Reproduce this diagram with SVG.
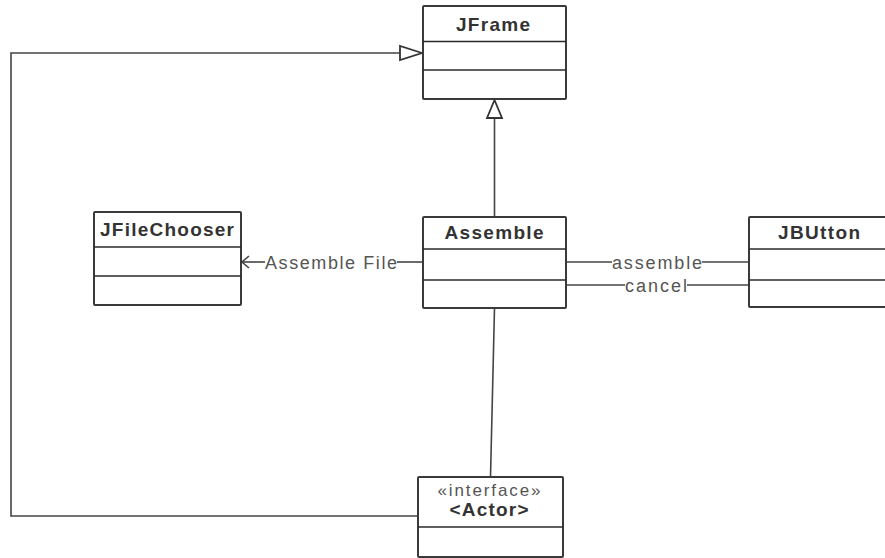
<svg xmlns="http://www.w3.org/2000/svg" width="885" height="558" viewBox="0 0 885 558">
  <style>
    .box { fill: #ffffff; stroke: #3a3a3a; stroke-width: 2; }
    .div { stroke: #2a2a2a; stroke-width: 1.6; }
    .title { font-family: "Liberation Sans", Arial, sans-serif; font-weight: bold; font-size: 19px; fill: #333333; text-anchor: middle; }
    .stereo { font-family: "Liberation Sans", Arial, sans-serif; font-size: 17px; fill: #555555; text-anchor: middle; }
    .edge { fill: none; stroke: #444444; stroke-width: 1.6; }
    .label { font-family: "Liberation Sans", Arial, sans-serif; font-size: 18px; fill: #555555; }
    .tri { fill: #ffffff; stroke: #333333; stroke-width: 1.8; stroke-linejoin: miter; }
  </style>

  <!-- connectors -->
  <g id="connectors">
    <!-- Assemble extends JFrame -->
    <line class="edge" x1="494.5" y1="217" x2="494.5" y2="118"/>
    <polygon class="tri" points="494.5,100 487,118 502,118"/>

    <!-- Actor to JFrame via left route -->
    <polyline class="edge" points="418,516 11,516 11,53 400,53"/>
    <polygon class="tri" points="422,53 400,46 400,60"/>

    <!-- Assemble to Actor -->
    <line class="edge" x1="494.5" y1="308" x2="490.5" y2="477"/>

    <!-- Assemble File: Assemble -> JFileChooser -->
    <line class="edge" x1="397" y1="262" x2="423" y2="262"/>
    <line class="edge" x1="242" y1="262" x2="265" y2="262"/>
    <polyline class="edge" points="249,256 242,262 249,268"/>
    <text class="label" x="265" y="268.5" textLength="132" lengthAdjust="spacing">Assemble File</text>

    <!-- assemble -->
    <line class="edge" x1="566" y1="262" x2="612" y2="262"/>
    <line class="edge" x1="702" y1="262" x2="749" y2="262"/>
    <text class="label" x="612" y="268.5" textLength="90" lengthAdjust="spacing">assemble</text>

    <!-- cancel -->
    <line class="edge" x1="566" y1="285" x2="625" y2="285"/>
    <line class="edge" x1="687" y1="285" x2="749" y2="285"/>
    <text class="label" x="625" y="291.5" textLength="62" lengthAdjust="spacing">cancel</text>
  </g>

  <!-- JFrame -->
  <g id="JFrame">
    <rect class="box" x="423" y="6" width="143" height="93" rx="1"/>
    <line class="div" x1="423" y1="41.5" x2="566" y2="41.5"/>
    <line class="div" x1="423" y1="70" x2="566" y2="70"/>
    <text class="title" x="493" y="30.5" textLength="74" lengthAdjust="spacing">JFrame</text>
  </g>

  <!-- JFileChooser -->
  <g id="JFileChooser">
    <rect class="box" x="94" y="212" width="147" height="93" rx="1"/>
    <line class="div" x1="94" y1="247" x2="241" y2="247"/>
    <line class="div" x1="94" y1="276" x2="241" y2="276"/>
    <text class="title" x="167" y="236" textLength="134" lengthAdjust="spacing">JFileChooser</text>
  </g>

  <!-- Assemble -->
  <g id="Assemble">
    <rect class="box" x="423" y="217" width="143" height="91" rx="1"/>
    <line class="div" x1="423" y1="249" x2="566" y2="249"/>
    <line class="div" x1="423" y1="280" x2="566" y2="280"/>
    <text class="title" x="494" y="238.5" textLength="99" lengthAdjust="spacing">Assemble</text>
  </g>

  <!-- JBUtton (runs past the right edge) -->
  <g id="JBUtton">
    <rect class="box" x="749" y="217" width="160" height="90" rx="1"/>
    <line class="div" x1="749" y1="249" x2="885" y2="249"/>
    <line class="div" x1="749" y1="280" x2="885" y2="280"/>
    <text class="title" x="819" y="238.5" textLength="82" lengthAdjust="spacing">JBUtton</text>
  </g>

  <!-- Actor interface -->
  <g id="Actor">
    <rect class="box" x="418" y="477" width="145" height="80" rx="1"/>
    <line class="div" x1="418" y1="527" x2="563" y2="527"/>
    <text class="stereo" x="489" y="495.5" textLength="103" lengthAdjust="spacing">«interface»</text>
    <text class="title" x="489" y="515.5" textLength="79" lengthAdjust="spacing">&lt;Actor&gt;</text>
  </g>
</svg>
